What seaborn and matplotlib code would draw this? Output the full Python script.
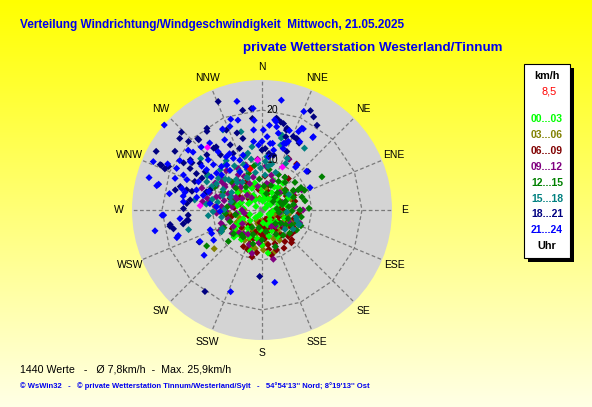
import numpy as np
import pandas as pd
import matplotlib
matplotlib.use("Agg")
import matplotlib.pyplot as plt
from matplotlib.patches import Circle, Rectangle, Polygon
import seaborn as sns

# ---------------- data (direction in degrees, speed in km/h) ----------------
green_dir = [52, 48, 40, 35, 58, 62, 45, 30, 25, 70,
             80, 95, 110, 130, 150, 165, 172, 180, 196, 205,
             215, 225, 232, 238, 245, 228, 220, 210, 260, 275,
             290, 310, 330, 345, 355, 5, 15, 20, 60, 120,
             140, 160, 185, 200, 240, 250, 300, 320, 10, 75,
             42, 55, 65, 85, 100, 115, 125, 135, 145, 155,
             175, 190, 218, 235, 242, 255, 265, 280, 295, 305,
             315, 325, 335, 350, 0, 28, 38, 50, 212, 226]
green_spd = [6.0, 4.5, 3.0, 5.5, 2.0, 6.5, 1.5, 4.0, 2.5, 3.5,
             5.0, 2.2, 4.8, 3.6, 6.2, 5.4, 8.7, 7.0, 8.5, 6.0,
             7.2, 6.8, 7.4, 5.6, 4.2, 3.2, 2.0, 1.2, 5.2, 3.8,
             4.4, 2.8, 3.4, 5.6, 4.6, 1.8, 2.6, 6.4, 0.8, 1.6,
             2.4, 3.2, 4.0, 1.0, 6.2, 2.6, 1.4, 5.0, 3.0, 4.2,
             5.0, 3.6, 5.8, 2.8, 3.8, 2.0, 5.6, 4.4, 3.0, 4.6,
             2.6, 5.8, 4.6, 6.6, 5.0, 7.0, 4.2, 5.0, 3.0, 6.0,
             4.0, 2.4, 4.8, 2.2, 3.6, 5.2, 6.8, 2.6, 5.4, 7.8]

olive_dir = [165, 172, 180, 188, 195, 203, 212, 220, 176, 184,
             192, 158, 150, 143, 207, 216, 226, 231, 198, 186,
             152, 138, 128, 118, 108, 84, 96, 100, 62, 48,
             32, 348, 328, 302, 272, 252, 163, 240, 178, 190,
             170, 200, 210, 135, 115,
             168, 174, 182, 194, 206, 218, 228, 236, 160, 148,
             142, 132, 122, 112, 244, 256, 264, 280, 290, 310,
             320, 340, 355, 10, 20, 40, 70, 88, 104, 196]
olive_spd = [5.5, 6.8, 7.2, 6.0, 7.5, 6.4, 5.8, 6.6, 4.2, 3.6,
             4.8, 6.2, 7.0, 5.6, 4.4, 3.8, 5.2, 12.3, 2.8, 2.2,
             3.4, 4.6, 6.0, 5.0, 4.4, 6.4, 3.8, 5.4, 4.0, 3.2,
             2.6, 2.4, 3.0, 4.6, 3.6, 4.8, 8.7, 6.2, 8.0, 7.8,
             3.0, 5.0, 7.0, 2.0, 6.8,
             3.2, 4.6, 5.8, 3.0, 2.4, 4.0, 6.6, 4.4, 2.0, 3.8,
             5.0, 3.0, 2.6, 6.0, 5.6, 3.4, 6.6, 5.4, 6.2, 5.8,
             4.2, 5.0, 3.8, 4.4, 3.6, 5.6, 6.2, 3.2, 2.8, 8.2]

maroon_dir = [344, 47, 100, 147, 144, 160, 192, 258, 270, 40,
              27, 37, 159, 120, 130, 135, 150, 165, 170, 175,
              185, 195, 205, 140, 155, 125, 110, 180, 190, 200,
              215, 230, 60, 75, 90, 15, 330, 300, 285, 170,
              150, 135, 160, 182, 145, 128, 118, 200,
              112, 122, 132, 142, 152, 162, 172, 187, 197, 207,
              222, 238, 248, 105, 95, 80, 65, 50, 20, 5,
              350, 320, 310, 290, 275, 262, 168, 178, 138, 156]
maroon_spd = [8.7, 4.9, 2.0, 4.8, 7.8, 8.5, 9.6, 6.2, 8.0, 8.2,
              11.6, 11.5, 7.2, 6.5, 5.2, 7.4, 6.0, 4.6, 7.0, 5.8,
              6.6, 4.4, 5.4, 3.2, 3.8, 4.0, 5.0, 3.0, 2.6, 7.2,
              6.8, 5.4, 5.6, 6.8, 4.2, 5.2, 6.4, 5.2, 4.6, 8.0,
              8.8, 8.4, 3.4, 4.8, 6.2, 7.6, 7.0, 8.4,
              3.6, 7.8, 2.4, 6.4, 4.2, 2.8, 3.8, 8.6, 6.0, 8.2,
              4.0, 7.0, 3.0, 6.6, 7.4, 3.4, 7.0, 6.2, 3.8, 6.8,
              4.2, 7.6, 3.4, 6.8, 5.6, 7.2, 9.2, 5.2, 8.8, 2.0]

purple_dir = [274, 288, 302, 266, 296, 326, 28, 63, 84, 167,
              193, 109, 286, 275, 280, 292, 310, 318, 255, 248,
              240, 262, 300, 315, 335, 345, 350, 10, 20, 45,
              70, 100, 125, 140, 210, 225, 235, 270, 282, 298,
              305, 290, 278, 260, 320, 330,
              268, 276, 284, 294, 304, 312, 322, 332, 340, 252,
              244, 232, 218, 200, 185, 160, 150, 115, 90, 60,
              35, 15, 5, 355, 300, 288, 278, 308, 318, 296]
purple_spd = [9.4, 8.8, 8.7, 9.1, 7.5, 8.5, 11.5, 8.9, 6.6, 10.1,
              8.9, 8.0, 9.5, 8.1, 6.4, 5.6, 7.2, 6.2, 7.0, 8.4,
              6.6, 5.2, 4.6, 4.2, 5.8, 6.8, 4.8, 5.4, 6.2, 5.0,
              4.4, 3.6, 5.0, 4.2, 5.6, 6.4, 4.8, 4.0, 11.2, 10.4,
              9.8, 12.8, 12.0, 3.6, 3.2, 9.6,
              7.2, 6.0, 7.8, 6.8, 9.0, 8.0, 7.0, 7.6, 9.6, 8.6,
              9.4, 7.6, 6.0, 7.4, 6.6, 7.8, 3.8, 6.2, 8.2, 7.4,
              8.0, 7.2, 8.8, 10.2, 10.8, 11.0, 10.6, 10.0, 10.6, 5.8]

dgreen_dir = [61, 72, 108, 117, 227, 242, 219, 296, 313, 49,
              61, 237, 65, 40, 55, 80, 90, 95, 100, 30,
              20, 75, 85, 125, 135, 150, 170, 190, 200, 210,
              250, 265, 285, 340, 355, 5, 15, 45, 70, 110,
              60, 88, 120,
              35, 50, 58, 68, 78, 92, 102, 112, 122, 130,
              140, 160, 180, 195, 215, 230, 245, 260, 275, 295,
              310, 325, 350, 10, 25, 42, 83, 98, 67, 53]
dgreen_spd = [8.3, 8.4, 5.5, 6.7, 9.2, 9.2, 6.4, 10.5, 8.3, 6.1,
              13.7, 13.2, 9.4, 7.2, 5.8, 6.4, 7.6, 4.8, 8.0, 6.6,
              5.2, 4.2, 3.0, 4.6, 3.8, 5.6, 4.4, 3.6, 5.2, 4.0,
              6.8, 7.4, 6.0, 7.8, 6.2, 4.8, 3.4, 3.6, 5.0, 7.4,
              9.0, 9.4, 8.0,
              8.0, 8.6, 7.4, 6.8, 8.8, 6.0, 7.0, 8.4, 5.6, 7.2,
              6.6, 7.8, 6.0, 7.0, 6.6, 7.4, 8.4, 5.4, 7.0, 8.6,
              6.8, 5.6, 9.0, 8.2, 7.8, 4.6, 5.4, 3.4, 4.0, 2.8]

teal_dir = [34.5, 345, 334, 310, 302, 295, 300, 278.5, 264, 255,
            242, 15, 16, 112, 106, 102, 111, 121.5, 15, 26,
            27, 5, 4, 303, 297, 321, 346, 342, 351, 320,
            330, 340, 350, 355, 5, 290, 280, 270, 310, 325,
            335, 285, 260, 245, 130, 95, 60, 20,
            282, 288, 298, 306, 314, 318, 328, 338, 348, 358,
            8, 12, 300, 292, 276, 268, 312, 336, 324, 344]
teal_spd = [15.0, 16.2, 17.8, 16.0, 12.9, 11.1, 10.5, 13.6, 10.8, 15.2,
            9.2, 14.9, 13.5, 7.9, 7.2, 7.0, 8.0, 7.3, 15.5, 11.5,
            10.4, 10.7, 9.7, 12.8, 12.4, 11.7, 11.7, 11.2, 12.8, 8.0,
            9.0, 8.6, 7.6, 9.4, 7.0, 8.4, 9.0, 7.6, 9.6, 6.8,
            7.2, 6.4, 8.2, 8.8, 6.0, 5.0, 6.2, 8.0,
            10.2, 11.4, 8.8, 10.8, 11.6, 7.4, 10.4, 9.8, 10.4, 8.4,
            8.8, 9.4, 7.0, 6.8, 11.2, 9.8, 9.0, 7.0, 12.2, 11.4]

navy_dir = [338, 349, 354, 354, 26, 29, 314, 311, 313, 299,
            304, 318, 325, 294, 293, 300, 307, 304, 283, 286,
            285, 285, 266, 262, 260, 261, 258, 215, 182, 14,
            17, 19, 26, 9, 0, 3, 345, 342, 336, 323,
            323, 334, 315, 299, 298, 293, 275, 278, 50, 271,
            260, 262, 243, 326, 318, 305, 304, 301, 294, 295,
            288, 291, 322, 324, 333, 340, 33, 10, 12, 17,
            18, 23, 26, 29, 7, 12, 23]
navy_spd = [23.4, 20.3, 20.4, 18.4, 22.1, 21.3, 22.4, 21.8, 20.1, 24.2,
            21.0, 18.9, 19.2, 22.0, 21.1, 16.6, 15.5, 13.7, 17.8, 17.0,
            15.6, 14.5, 14.8, 15.2, 16.0, 18.6, 18.1, 19.9, 13.3, 17.8,
            16.7, 14.1, 15.9, 18.6, 12.0, 12.3, 14.8, 16.2, 17.5, 15.5,
            13.8, 14.5, 15.6, 15.0, 13.6, 14.6, 15.1, 14.5, 12.0, 15.7,
            18.7, 14.9, 14.1, 19.7, 19.2, 17.5, 16.9, 18.3, 22.3, 20.6,
            11.7, 11.1, 15.7, 15.6, 12.7, 13.1, 20.2, 18.3, 18.0, 17.1,
            15.4, 16.0, 15.8, 15.3, 11.4, 11.2, 12.7]

blue_dir = [10, 347, 23, 311, 35, 294, 286, 283, 280, 65,
            267, 259, 253, 232, 170, 322, 334, 339, 345, 355,
            355, 1, 0, 4, 9, 10, 12, 19, 25, 26,
            29, 49, 38, 309, 304, 301, 296, 294, 292, 290,
            285, 283, 280, 281, 284, 289, 303, 309, 306, 317,
            322, 249, 245, 243, 238, 274, 268, 277, 326, 330,
            331, 336, 340, 341, 7, 11, 7, 19, 20, 201,
            252, 264, 267, 341, 332, 316, 310, 313, 323, 313,
            306, 296, 294, 287, 284, 276, 311, 321, 330, 354,
            353, 357, 27, 35, 8, 5, 18, 21, 9, 38]
blue_spd = [22.3, 22.3, 21.4, 25.9, 17.7, 23.8, 23.5, 21.6, 18.8, 10.6,
            19.7, 21.8, 17.5, 14.7, 14.7, 17.0, 18.0, 17.9, 18.6, 20.4,
            18.0, 16.0, 13.7, 14.7, 17.9, 16.9, 15.7, 16.8, 17.3, 18.2,
            15.6, 11.8, 10.9, 19.0, 17.3, 19.2, 19.0, 17.2, 16.2, 18.5,
            16.6, 15.8, 16.0, 13.3, 12.1, 11.3, 12.1, 11.7, 13.7, 11.9,
            11.4, 11.1, 11.1, 13.9, 11.4, 9.1, 8.4, 10.5, 12.8, 13.0,
            11.8, 10.9, 9.2, 11.6, 13.4, 12.2, 10.7, 13.0, 14.2, 17.5,
            17.9, 16.5, 20.0, 19.2, 15.9, 17.5, 18.0, 14.7, 14.6, 13.3,
            14.9, 21.0, 13.9, 13.7, 21.3, 15.8, 10.7, 10.2, 8.8, 16.1,
            13.8, 13.0, 18.2, 17.9, 18.2, 17.0, 14.0, 14.7, 13.5, 11.4]

magenta_dir = [319, 355, 25.5, 274]
magenta_spd = [16.6, 10.0, 9.5, 12.4]
current_dir = [344]
current_spd = [8.5]

time_labels = ["00...03", "03...06", "06...09", "09...12",
               "12...15", "15...18", "18...21", "21...24"]
time_colors = ["#00ff00", "#808000", "#800000", "#800080",
               "#008000", "#008080", "#000080", "#0000ff"]
compass = ["N", "NNE", "NE", "ENE", "E", "ESE", "SE", "SSE",
           "S", "SSW", "SW", "WSW", "W", "WNW", "NW", "NNW"]
ring_values = [10, 20]
r_max = 26.0
current_text = "8,5"

# ---------------- build frame (draw order) ----------------
series = {
    "03...06": (olive_dir, olive_spd),
    "06...09": (maroon_dir, maroon_spd),
    "00...03": (green_dir, green_spd),
    "09...12": (purple_dir, purple_spd),
    "12...15": (dgreen_dir, dgreen_spd),
    "15...18": (teal_dir, teal_spd),
    "18...21": (navy_dir, navy_spd),
    "21...24": (blue_dir, blue_spd),
    "mark": (magenta_dir, magenta_spd),
    "aktuell": (current_dir, current_spd),
}
frames = []
for name, (d, s) in series.items():
    frames.append(pd.DataFrame({"grp": name, "dir": d, "spd": s}))
df = pd.concat(frames, ignore_index=True)
rad = np.deg2rad(df["dir"].to_numpy())
df["x"] = df["spd"] * np.sin(rad)
df["y"] = df["spd"] * np.cos(rad)

palette = dict(zip(time_labels, time_colors))
palette["mark"] = "#ff00ff"
palette["aktuell"] = "#ff0000"

# ---------------- figure ----------------
sns.set_style("white")
plt.rcParams["font.family"] = ["Liberation Sans", "DejaVu Sans"]

W, H = 592, 407
fig = plt.figure(figsize=(W / 100, H / 100), dpi=100)
ax = fig.add_axes([0, 0, 1, 1])
CX, CY, SC = 262, 210, 5.0  # centre pixel, pixels per km/h
xmin, xmax = (0 - CX) / SC, (W - CX) / SC
ymin, ymax = (CY - H) / SC, CY / SC

# background gradient
grad = np.zeros((256, 1, 3))
t = np.linspace(0, 1, 256)
grad[:, 0, 0] = 1.0
grad[:, 0, 1] = 1.0
grad[:, 0, 2] = 0.9 * t
ax.imshow(grad, extent=[xmin, xmax, ymin, ymax], aspect="auto", zorder=0,
          origin="upper")

# grey disc
ax.add_patch(Circle((0, 0), r_max, facecolor="#d4d4d4", edgecolor="none", zorder=1))

angles = np.deg2rad(np.arange(16) * 22.5)
dash = (0, (3, 2))
for a in angles:
    ax.plot([0, r_max * np.sin(a)], [0, r_max * np.cos(a)], color="#7a7a7a",
            lw=0.9, linestyle=dash, zorder=2)
for rv in ring_values:
    pts = np.column_stack([rv * np.sin(angles), rv * np.cos(angles)])
    ax.add_patch(Polygon(pts, closed=True, fill=False, edgecolor="#7a7a7a",
                         lw=0.9, linestyle=dash, zorder=2))

sns.scatterplot(data=df, x="x", y="y", hue="grp", palette=palette,
                marker="D", s=13, linewidth=0, legend=False, ax=ax, zorder=3)

ax.set_xlim(xmin, xmax)
ax.set_ylim(ymin, ymax)
ax.set_axis_off()

# ring labels
for rv in ring_values:
    ax.text(2.0, rv, str(rv), fontsize=7.5, color="black", ha="center",
            va="center", zorder=4)

# compass labels
for lab, a in zip(compass, angles):
    rr = 28.6
    ax.text(rr * np.sin(a), rr * np.cos(a), lab, fontsize=7.5, color="black",
            ha="center", va="center", zorder=4)


def fx(px):
    return px / W


def fy(py):
    return 1 - py / H


# titles
fig.text(fx(20), fy(25), "Verteilung Windrichtung/Windgeschwindigkeit  Mittwoch, 21.05.2025",
         fontsize=8.5, fontweight="bold", color="#0000ee", ha="left", va="center")
fig.text(fx(243), fy(48), "private Wetterstation Westerland/Tinnum",
         fontsize=9.6, fontweight="bold", color="#0000ee", ha="left", va="center")

# legend box
bx0, by0, bx1, by1 = 524, 64, 570, 258
shadow = Rectangle((fx(bx0 + 4), fy(by1 + 4)), (bx1 - bx0) / W, (by1 - by0) / H,
                   transform=fig.transFigure, facecolor="black", edgecolor="none", zorder=5)
box = Rectangle((fx(bx0), fy(by1)), (bx1 - bx0) / W, (by1 - by0) / H,
                transform=fig.transFigure, facecolor="white", edgecolor="black",
                lw=0.8, zorder=6)
fig.add_artist(shadow)
fig.add_artist(box)
lx = (bx0 + bx1) / 2
fig.text(fx(lx), fy(76), "km/h", fontsize=7.8, fontweight="bold", color="black",
         ha="center", va="center", zorder=7)
fig.text(fx(lx + 2), fy(92), current_text, fontsize=7.8, color="#ff0000",
         ha="center", va="center", zorder=7)
for i, (lab, col) in enumerate(zip(time_labels, time_colors)):
    fig.text(fx(lx), fy(119 + i * 15.9), lab, fontsize=7.5, fontweight="bold",
             color=col, ha="center", va="center", zorder=7)
fig.text(fx(lx), fy(246), "Uhr", fontsize=7.8, fontweight="bold", color="black",
         ha="center", va="center", zorder=7)

# footer
fig.text(fx(20), fy(369), "1440 Werte   -   \u00d8 7,8km/h  -  Max. 25,9km/h",
         fontsize=7.7, color="black", ha="left", va="center")
fig.text(fx(20), fy(386),
         "\u00a9 WsWin32   -   \u00a9 private Wetterstation Tinnum/Westerland/Sylt   -   54\u00b054'13'' Nord; 8\u00b019'13'' Ost",
         fontsize=5.5, fontweight="bold", color="#0000ee", ha="left", va="center")

fig.savefig("out.png", dpi=100)
